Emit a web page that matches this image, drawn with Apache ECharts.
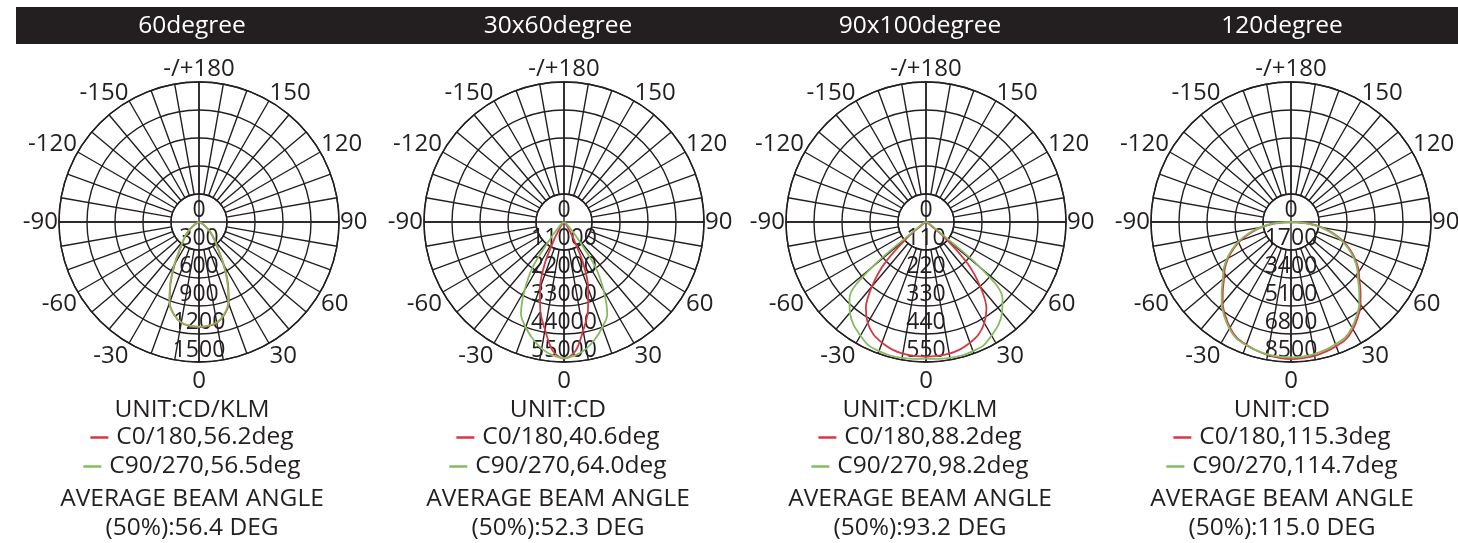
<!DOCTYPE html>
<html lang="en">
<head>
    <meta charset="UTF-8">
    <title>Polar light distribution</title>
    <script src="https://cdn.jsdelivr.net/npm/echarts@6/dist/echarts.min.js"></script>
    <style>
        body { margin: 0; width: 1458px; height: 543px; overflow: hidden; background: #fff; position: relative; }
        #bar { position: absolute; left: 16px; top: 7px; width: 1442px; height: 37px; background: #231f20; }
        .panel { position: absolute; top: 0; width: 360px; height: 543px; }
    </style>
</head>
<body>
<div id="bar"></div>
<div class="panel" id="p0"></div>
<div class="panel" id="p1"></div>
<div class="panel" id="p2"></div>
<div class="panel" id="p3"></div>

<script type="text/javascript">
    // text of each panel
    var titles = ['60degree', '30x60degree', '90x100degree', '120degree'];
    var units = ['UNIT:CD/KLM', 'UNIT:CD', 'UNIT:CD/KLM', 'UNIT:CD'];
    var c0Names = ['C0/180,56.2deg', 'C0/180,40.6deg', 'C0/180,88.2deg', 'C0/180,115.3deg'];
    var c90Names = ['C90/270,56.5deg', 'C90/270,64.0deg', 'C90/270,98.2deg', 'C90/270,114.7deg'];
    var averages = ['(50%):56.4 DEG', '(50%):52.3 DEG', '(50%):93.2 DEG', '(50%):115.0 DEG'];
    var radiusMax = [1500, 55000, 550, 8500];

    // gamma angles, 0 = straight down
    var angles = [-90, -85, -80, -75, -70, -65, -60, -55, -50, -45, -40, -35, -30, -25, -20, -15, -10, -5, 0,
        5, 10, 15, 20, 25, 30, 35, 40, 45, 50, 55, 60, 65, 70, 75, 80, 85, 90];

    // 60degree
    var c0_60 = [0, 2, 4, 8, 15, 30, 55, 90, 140, 200, 265, 355, 520, 720, 920, 1030, 1095, 1118, 1125,
        1120, 1098, 1035, 930, 735, 530, 360, 268, 200, 140, 90, 55, 30, 15, 8, 4, 2, 0];
    var c90_60 = [0, 2, 4, 8, 15, 30, 55, 90, 140, 205, 270, 360, 530, 730, 925, 1030, 1092, 1115, 1120,
        1115, 1092, 1028, 918, 722, 524, 358, 266, 202, 140, 90, 55, 30, 15, 8, 4, 2, 0];
    // 30x60degree
    var c0_3060 = [0, 0, 5, 10, 20, 40, 80, 150, 300, 600, 1200, 2600, 7000, 17500, 27500, 36000, 43000, 50800, 53700,
        51000, 43300, 36300, 27800, 17700, 7100, 2600, 1200, 600, 300, 150, 80, 40, 20, 10, 5, 0, 0];
    var c90_3060 = [0, 0, 0, 50, 100, 200, 400, 800, 1500, 3000, 7500, 21000, 31000, 40000, 44000, 47500, 50500, 52500, 53500,
        52500, 50500, 47500, 44000, 40200, 31200, 21200, 7600, 3000, 1500, 800, 400, 200, 100, 50, 0, 0, 0];
    // 90x100degree
    var c0_90100 = [0, 0, 0, 1, 2, 4, 8, 22, 100, 230, 330, 412, 458, 488, 505, 518, 525, 528, 529,
        528, 525, 518, 505, 488, 458, 414, 332, 232, 100, 22, 8, 4, 2, 1, 0, 0, 0];
    var c90_90100 = [0, 0, 1, 3, 6, 12, 20, 45, 280, 425, 465, 495, 515, 535, 540, 543, 542, 540, 537,
        540, 542, 543, 540, 535, 515, 495, 465, 425, 280, 45, 20, 12, 6, 3, 1, 0, 0];
    // 120degree
    var c0_120 = [0, 950, 1800, 2550, 3250, 3850, 4400, 4900, 5300, 5850, 6450, 6950, 7400, 7760, 7930, 8080, 8200, 8280, 8320,
        8300, 8250, 8150, 8020, 7870, 7520, 7070, 6570, 5970, 5420, 5000, 4500, 3950, 3350, 2650, 1900, 1050, 0];
    var c90_120 = [0, 1050, 1900, 2650, 3350, 3950, 4500, 5000, 5400, 5950, 6540, 7040, 7480, 7820, 7960, 8080, 8160, 8200, 8220,
        8200, 8140, 8040, 7900, 7750, 7400, 6950, 6450, 5850, 5300, 4900, 4400, 3850, 3250, 2550, 1800, 950, 0];

    var c0Data = [c0_60, c0_3060, c0_90100, c0_120];
    var c90Data = [c90_60, c90_3060, c90_90100, c90_120];

    // layout
    var textCenters = [192, 558, 920, 1282];
    var polarCenters = [199, 564, 926, 1291];
    var PANEL_W = 360;
    var CY = 222, R = 140, R_IN = 28;
    var INK = '#231f20', RED = '#d33a44', GREEN = '#86bb62';
    var FONT = '"Open Sans", sans-serif';

    function toPolar(vals) {
        return vals.map(function (v, k) {
            return [v, (angles[k] + 360) % 360];
        });
    }

    // upper diagonal labels and the bottom 0 sit a little lower in the original
    function angleLabel(v) {
        if (v % 30 !== 0 || v === 180) return '';
        if (v === -180) return '-/+180';
        if (v === 0) return '{dn|0}';
        if (Math.abs(v) >= 120) return '{up|' + v + '}';
        return String(v);
    }

    function textStyle(color) {
        return {color: color, fontSize: 24.5, fontWeight: 'normal', fontFamily: FONT, lineHeight: 29};
    }

    function buildOption(i) {
        var cx = polarCenters[i] - (textCenters[i] - PANEL_W / 2);
        var grid = {color: INK, width: 1.4};
        var legendText = {color: INK, fontSize: 24.5, fontFamily: FONT, lineHeight: 29, padding: [0, 0, 0, 3]};
        return {
            animation: false,
            title: [
                {text: titles[i], left: 'center', top: 12, padding: 0, textStyle: textStyle('#fff')},
                {text: units[i], left: 'center', top: 396, padding: 0, textStyle: textStyle(INK)},
                {text: 'AVERAGE BEAM ANGLE\n' + averages[i], left: 'center', top: 485, padding: 0, textStyle: textStyle(INK)}
            ],
            legend: [
                {data: [c0Names[i]], left: 'center', top: 423, padding: 0, icon: 'rect', itemWidth: 18, itemHeight: 2.5,
                    selectedMode: false, textStyle: legendText},
                {data: [c90Names[i]], left: 'center', top: 452, padding: 0, icon: 'rect', itemWidth: 18, itemHeight: 2.5,
                    selectedMode: false, textStyle: legendText}
            ],
            polar: [
                {center: [cx, CY], radius: [R_IN, R]},
                {center: [cx, CY], radius: [0, R]}
            ],
            angleAxis: [
                {
                    polarIndex: 0, type: 'value', min: -180, max: 180, interval: 10, startAngle: 90, clockwise: false,
                    axisLine: {show: true, lineStyle: grid}, axisTick: {show: false},
                    splitLine: {show: true, lineStyle: grid},
                    axisLabel: {
                        show: true, margin: 1, color: INK, fontSize: 24, fontFamily: FONT, formatter: angleLabel,
                        rich: {
                            up: {color: INK, fontSize: 24, fontFamily: FONT, lineHeight: 14},
                            dn: {color: INK, fontSize: 24, fontFamily: FONT, padding: [6, 0, 0, 0]}
                        }
                    }
                },
                {
                    polarIndex: 1, type: 'value', min: 0, max: 360, interval: 90, startAngle: 270, clockwise: false,
                    axisLine: {show: false}, axisTick: {show: false}, axisLabel: {show: false},
                    splitLine: {show: true, lineStyle: grid}
                }
            ],
            radiusAxis: [
                {polarIndex: 0, type: 'value', min: 0, max: 1, show: false},
                {
                    polarIndex: 1, type: 'value', min: 0, max: radiusMax[i], interval: radiusMax[i] / 5,
                    axisLine: {show: false}, axisTick: {show: false},
                    splitLine: {show: true, lineStyle: grid},
                    axisLabel: {margin: 0, align: 'center', verticalAlign: 'bottom', color: INK, fontSize: 23, fontFamily: FONT,
                        formatter: function (v) { return String(v); }}
                }
            ],
            series: [
                {name: c0Names[i], type: 'line', coordinateSystem: 'polar', polarIndex: 1, data: toPolar(c0Data[i]),
                    showSymbol: false, smooth: 0.3, color: RED, lineStyle: {color: RED, width: 1.8}},
                {name: c90Names[i], type: 'line', coordinateSystem: 'polar', polarIndex: 1, data: toPolar(c90Data[i]),
                    showSymbol: false, smooth: 0.3, color: GREEN, lineStyle: {color: GREEN, width: 1.8}}
            ]
        };
    }

    for (var i = 0; i < 4; i++) {
        var el = document.getElementById('p' + i);
        el.style.left = (textCenters[i] - PANEL_W / 2) + 'px';
        var chart = echarts.init(el);
        chart.setOption(buildOption(i));
    }
</script>
</body>
</html>
